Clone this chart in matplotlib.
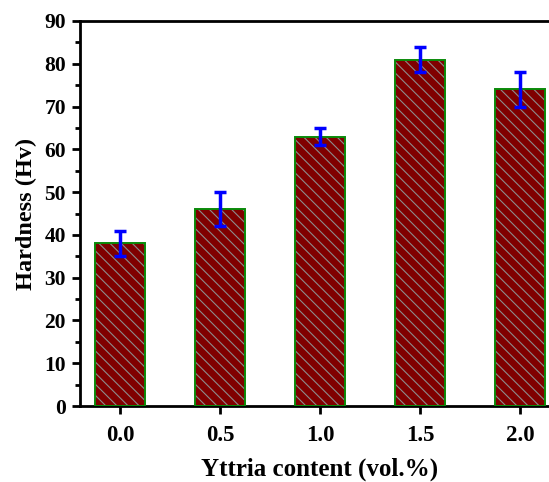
import matplotlib
matplotlib.use('Agg')
import matplotlib.pyplot as plt
from matplotlib.ticker import MultipleLocator

content = [0.0, 0.5, 1.0, 1.5, 2.0]
hardness = [38, 46, 63, 81, 74]
err = [3, 4, 2, 3, 4]
xticklabels = ['0.0', '0.5', '1.0', '1.5', '2.0']

plt.rcParams['font.family'] = ['Liberation Serif', 'DejaVu Serif']
plt.rcParams['font.weight'] = 'bold'
plt.rcParams['hatch.linewidth'] = 0.8

fig = plt.figure(figsize=(5.49, 4.82), dpi=100)
ax = fig.add_axes([80 / 549, 76 / 482, 480 / 549, 385 / 482])

# base bars, then hatch layer in grey on top
ax.bar(content, hardness, width=0.25, color='#800000', linewidth=0, zorder=2)
ax.bar(content, hardness, width=0.25, fill=False, edgecolor='#8c8c8c', hatch='\\\\\\', linewidth=0, zorder=3)
ax.bar(content, hardness, width=0.25, fill=False, edgecolor='#0a8a0a', linewidth=1.4, zorder=4)
ax.errorbar(content, hardness, yerr=err, fmt='none', ecolor='#0000ff', elinewidth=2.5,
            capsize=4.2, capthick=2.5, zorder=5)

ax.set_xlim(-0.2, 2.2)
ax.set_ylim(0, 90)
ax.set_xticks(content)
ax.set_xticklabels(xticklabels, fontsize=16.5, fontweight='bold')
ax.yaxis.set_major_locator(MultipleLocator(10))
ax.yaxis.set_minor_locator(MultipleLocator(5))
for lab in ax.get_yticklabels():
    lab.set_fontsize(15.5)
    lab.set_fontweight('bold')
ax.tick_params(axis='both', which='major', direction='out', length=6, width=2, pad=8)
ax.tick_params(axis='y', which='minor', direction='out', length=3.5, width=2)
ax.tick_params(axis='y', which='major', pad=4)
for s in ax.spines.values():
    s.set_linewidth(2)

ax.set_xlabel('Yttria content (vol.%)', fontsize=18, fontweight='bold', labelpad=8)
ax.set_ylabel('Hardness (Hv)', fontsize=17.5, fontweight='bold', labelpad=5)

fig.savefig('out.png', dpi=100)
